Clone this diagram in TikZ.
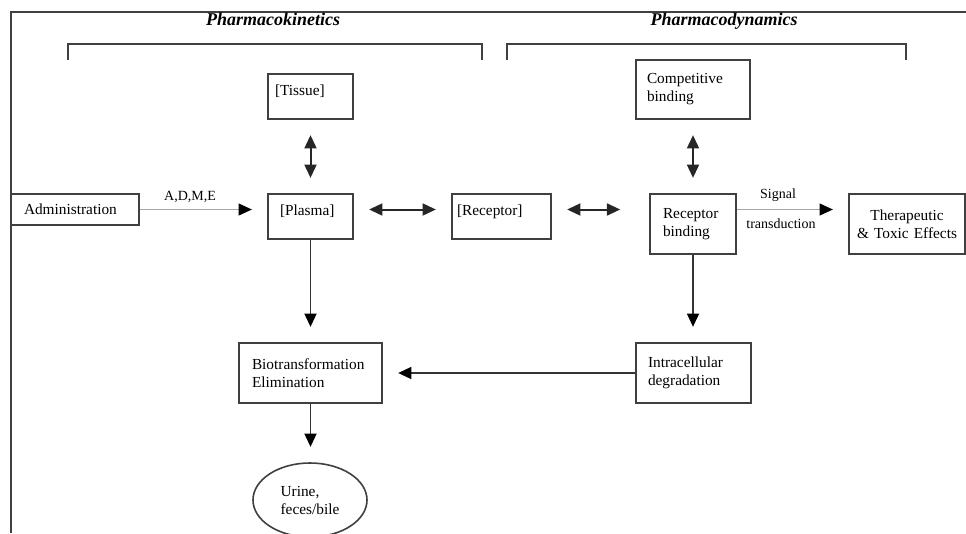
\documentclass[tikz,border=0pt]{standalone}
\usepackage{fontspec}
\setmainfont{Liberation Serif}
\usetikzlibrary{calc, shapes.geometric, positioning, arrows.meta}
\newcommand\brk[2]{\draw[frm] (#1,60) -- (#1,44) -- (#2,44) -- (#2,60);}
\tikzset{
frm/.style={draw=black!75, line width=1pt},
box/.style={draw=black!75, line width=1.2pt, rectangle, inner ysep=0pt, align=left, font=\fontsize{11.5}{13.5}\selectfont},
onel/.style={text height=8pt, text depth=10pt},
lbl/.style={inner sep=0pt, font=\fontsize{10.5}{12}\selectfont},
ttl/.style={inner sep=0pt, anchor=base, font=\fontsize{13.5}{16}\selectfont\bfseries\itshape},
tip/.style={-{Triangle[length=10pt,width=9pt,color=black]}, line width=1.4pt, draw=black!80, shorten >=11.5pt},
dbl/.style={{Triangle[length=10pt,width=9pt]}-{Triangle[length=10pt,width=9pt]}, line width=1.5pt, draw=black!85, shorten <=11.5pt, shorten >=11.5pt},
faint/.style={draw=black!35, line width=0.9pt}
}
\begin{document}
\begin{tikzpicture}[x=0.75pt,y=-0.75pt]
\useasboundingbox (0,0) rectangle (966,533);
\draw[frm] (11,533) -- (11,12) -- (966,12);
\brk{68}{482}
\brk{507}{906}
\node[ttl] (pk) at (273,25) {Pharmacokinetics};
\node[ttl] (pd) at (724,25) {Pharmacodynamics};
\node[box, onel, minimum width=63.75pt, minimum height=33.75pt, inner xsep=5.25pt, text width=53.25pt] (tissue) at (310.5,96.5) {[Tissue]};
\node[box, minimum width=96pt, minimum height=23.25pt, inner xsep=9.75pt, text width=76.5pt] (admin) at (75,209.5) {Administration};
\node[box, onel, minimum width=63.75pt, minimum height=33.75pt, inner xsep=9pt, text width=45.75pt] (plasma) at (310.5,216.5) {[Plasma]};
\node[box, onel, minimum width=74.25pt, minimum height=33.75pt, inner xsep=3.75pt, text width=66.75pt] (receptor) at (501.5,216.5) {[Receptor]};
\node[box, minimum width=85.5pt, minimum height=44.25pt, inner xsep=8.25pt, text width=69pt] (comp) at (693,89.5) {Competitive\\binding};
\node[box, minimum width=64.5pt, minimum height=45pt, inner xsep=9.75pt, text width=45pt] (rb) at (693,224) {Receptor\\binding};
\node[box, align=center, minimum width=87pt, minimum height=45pt, inner xsep=3pt, text width=81pt] (ther) at (907,224) {Therapeutic\\\& Toxic Effects};
\node[box, minimum width=107.25pt, minimum height=45pt, inner xsep=9.75pt, text width=87.75pt] (bio) at (310.5,373) {Biotransformation\\Elimination};
\node[box, minimum width=86.25pt, minimum height=45pt, inner xsep=9pt, text width=68.25pt] (intra) at (693.5,373) {Intracellular\\degradation};
\node[box, ellipse, inner sep=0pt, minimum width=85.5pt, minimum height=55.5pt] (urine) at (310,500) {Urine,\\feces/bile};
\draw[tip, faint] (admin.east) -- (admin.east -| plasma.west);
\node[lbl] (adme) at (190,197) {A,D,M,E};
\draw[dbl] (tissue) -- (plasma);
\draw[dbl] (plasma.east |- admin.east) -- (receptor.west |- admin.east);
\draw[dbl, shorten >=21.75pt] (receptor.east |- admin.east) -- (rb.west |- admin.east);
\draw[dbl] (comp) -- (rb);
\draw[tip, faint] (rb.east |- admin.east) -- (ther.west |- admin.east);
\node[lbl] (sig) at (778,195) {Signal};
\node[lbl] (trans) at (781,224) {transduction};
\draw[tip] (plasma) -- (bio);
\draw[tip] (rb.south) -- (rb.south |- intra.north);
\draw[tip] (intra) -- (bio);
\draw[tip] (bio.south) -- (bio.south |- urine.north);
\end{tikzpicture}
\end{document}
